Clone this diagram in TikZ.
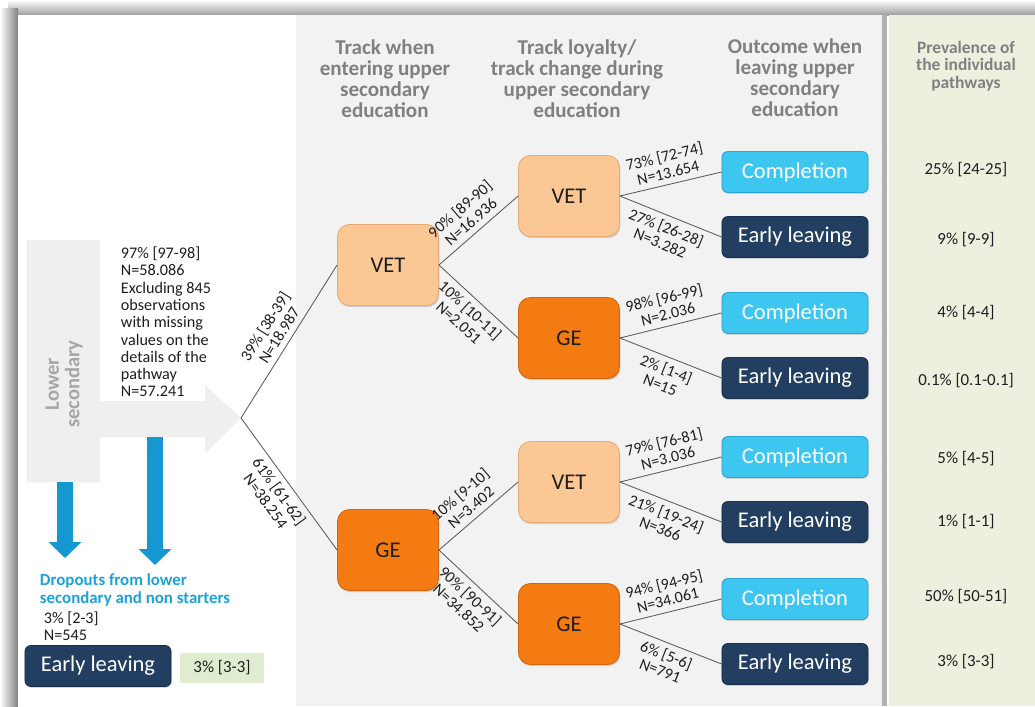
\documentclass[tikz,border=0pt]{standalone}
\usepackage{fontspec}
\setmainfont{Carlito}
\usepackage{xcolor}
\usepackage{tikz}
\usetikzlibrary{arrows.meta,shadows}
\definecolor{panelgray}{HTML}{F2F2F2}
\definecolor{panelgreen}{HTML}{EBF1DE}
\definecolor{boxgreen}{HTML}{DFECCF}
\definecolor{headgray}{HTML}{808080}
\definecolor{lowgray}{HTML}{A6A6A6}
\definecolor{arrowgray}{HTML}{EFEFEF}
\definecolor{vetfill}{HTML}{FBC794}
\definecolor{vetdraw}{HTML}{E6AA74}
\definecolor{gefill}{HTML}{F47A12}
\definecolor{gedraw}{HTML}{D4650A}
\definecolor{compfill}{HTML}{3CC6F0}
\definecolor{compdraw}{HTML}{2AA6D6}
\definecolor{earlyfill}{HTML}{223F62}
\definecolor{earlydraw}{HTML}{172F4D}
\definecolor{dropblue}{HTML}{1597D1}
\definecolor{droptext}{HTML}{1CA3DA}
\definecolor{linegray}{HTML}{595959}
\definecolor{txt}{HTML}{1E1E1E}
\tikzset{
  track/.style={rounded corners=0.3cm, minimum width=2.525cm, minimum height=2.025cm,
    line width=0.6pt, text=txt, font=\fontsize{16}{18}\selectfont,
    drop shadow={shadow xshift=0.6pt, shadow yshift=-1.2pt, opacity=0.3}},
  vet/.style={track, fill=vetfill, draw=vetdraw},
  ge/.style={track, fill=gefill, draw=gedraw},
  outbox/.style={rounded corners=0.15cm, minimum width=3.65cm, minimum height=1.025cm,
    line width=0.6pt, text=white, font=\fontsize{16}{18}\selectfont,
    drop shadow={shadow xshift=0.5pt, shadow yshift=-1pt, opacity=0.3}},
  done/.style={outbox, fill=compfill, draw=compdraw},
  leave/.style={outbox, fill=earlyfill, draw=earlydraw},
  link/.style={draw=linegray, line width=0.6pt},
  elab/.style={text=txt, font=\fontsize{11.4}{11.8}\selectfont, align=center, sloped, inner sep=1pt},
  head/.style={text=headgray, font=\bfseries\fontsize{15}{15}\selectfont, align=center},
  prevhead/.style={text=headgray, font=\bfseries\fontsize{12.4}{12.6}\selectfont, align=center},
  prev/.style={text=txt, font=\fontsize{12}{14}\selectfont},
  note/.style={text=txt, font=\fontsize{11.5}{12.3}\selectfont, align=left},
  drop/.style={draw=dropblue, line width=0.4cm, -{Triangle[width=0.8cm, length=0.4cm]}},
}

\begin{document}
\begin{tikzpicture}[x=0.025cm, y=-0.025cm]
  \useasboundingbox (0,0) rectangle (1035,706);

  % panels and frame shadow
  \fill[white] (0,0) rectangle (1035,706);
  \shade[top color=white, bottom color=black!38] (8,0) rectangle (1035,15);
  \shade[left color=white, right color=black!50] (0,8) rectangle (18,706);
  \fill[white] (18,15) rectangle (296,706);
  \fill[panelgray] (296,15) rectangle (882,706);
  \fill[black!30] (882,15) rectangle (887,706);
  \fill[panelgreen] (889,15) rectangle (1035,706);

  % column headers
  \node[head] (hEnter) at (385,79) {Track when\\entering upper\\secondary\\education};
  \node[head] (hLoyal) at (577,79) {Track loyalty/\\track change during\\upper secondary\\education};
  \node[head] (hOut) at (795,78) {Outcome when\\leaving upper\\secondary\\education};
  \node[prevhead] (hPrev) at (966,66) {Prevalence of\\the individual\\pathways};

  % lower secondary arrow
  \fill[arrowgray] (27,240) -- (100,240) -- (100,401) -- (205,401) -- (205,385) -- (241,418)
    -- (205,453) -- (205,437) -- (100,437) -- (100,482) -- (27,482) -- cycle;
  \node[rotate=90, text=lowgray, font=\bfseries\fontsize{14.6}{14.6}\selectfont, align=center]
    (lower) at (64,384) {Lower\\secondary};
  \node[note, anchor=west] (intake) at (116,322)
    {97\% [97-98]\\N=58.086\\Excluding 845\\observations\\with missing\\values on the\\details of the\\pathway\\N=57.241};
  \coordinate (split) at (241,418);

  % dropouts
  \coordinate (barfoot) at (65,482);
  \coordinate (shaftfoot) at (155,437);
  \coordinate (dropA) at (65,558);
  \coordinate (dropB) at (155,565);
  \draw[drop] (barfoot) -- (dropA);
  \draw[drop] (shaftfoot) -- (dropB);
  \node[text=droptext, font=\bfseries\fontsize{12}{12.6}\selectfont, align=left, anchor=west]
    (dropnote) at (35,590) {Dropouts from lower\\secondary and non starters};
  \node[note, anchor=west] (dropstat) at (39,626) {3\% [2-3]\\N=545};
  \node[leave] (leaveZ) at (98,666) {Early leaving};
  \node[fill=boxgreen, minimum width=2.1cm, minimum height=0.75cm, prev] (prevZ) at (222,668) {3\% [3-3]};

  % track nodes
  \node[vet] (vetA) at (388,265) {VET};
  \node[ge]  (geA)  at (388,550) {GE};
  \node[vet] (vetB) at (569,196) {VET};
  \node[ge]  (geB)  at (569,338) {GE};
  \node[vet] (vetC) at (569,482) {VET};
  \node[ge]  (geC)  at (569,624) {GE};

  % outcomes
  \node[done]  (compA)  at (795,172) {Completion};
  \node[leave] (leaveA) at (795,237) {Early leaving};
  \node[done]  (compB)  at (795,313) {Completion};
  \node[leave] (leaveB) at (795,378) {Early leaving};
  \node[done]  (compC)  at (795,457) {Completion};
  \node[leave] (leaveC) at (795,522) {Early leaving};
  \node[done]  (compD)  at (795,599) {Completion};
  \node[leave] (leaveD) at (795,664) {Early leaving};

  % connectors
  \draw[link] (split) -- node[elab, above=3pt] {39\% [38-39]\\N=18.987} (vetA.west);
  \draw[link] (split) -- node[elab, below=3pt] {61\% [61-62]\\N=38.254} (geA.west);
  \draw[link] (vetA.east) -- node[elab, above=3pt] {90\% [89-90]\\N=16.936} (vetB.west);
  \draw[link] (vetA.east) -- node[elab, below=3pt] {10\% [10-11]\\N=2.051} (geB.west);
  \draw[link] (geA.east) -- node[elab, above=3pt] {10\% [9-10]\\N=3.402} (vetC.west);
  \draw[link] (geA.east) -- node[elab, below=3pt] {90\% [90-91]\\N=34.852} (geC.west);
  \draw[link] (vetB.east) -- node[elab, above=3pt] {73\% [72-74]\\N=13.654} (compA.west);
  \draw[link] (vetB.east) -- node[elab, below=3pt] {27\% [26-28]\\N=3.282} (leaveA.west);
  \draw[link] (geB.east) -- node[elab, above=3pt] {98\% [96-99]\\N=2.036} (compB.west);
  \draw[link] (geB.east) -- node[elab, below=3pt] {2\% [1-4]\\N=15} (leaveB.west);
  \draw[link] (vetC.east) -- node[elab, above=3pt] {79\% [76-81]\\N=3.036} (compC.west);
  \draw[link] (vetC.east) -- node[elab, below=3pt] {21\% [19-24]\\N=366} (leaveC.west);
  \draw[link] (geC.east) -- node[elab, above=3pt] {94\% [94-95]\\N=34.061} (compD.west);
  \draw[link] (geC.east) -- node[elab, below=3pt] {6\% [5-6]\\N=791} (leaveD.west);

  % prevalence column
  \node[prev] (prevA) at (966,170) {25\% [24-25]};
  \node[prev] (prevB) at (966,240) {9\% [9-9]};
  \node[prev] (prevC) at (966,313) {4\% [4-4]};
  \node[prev] (prevD) at (966,381) {0.1\% [0.1-0.1]};
  \node[prev] (prevE) at (966,459) {5\% [4-5]};
  \node[prev] (prevF) at (966,522) {1\% [1-1]};
  \node[prev] (prevG) at (966,597) {50\% [50-51]};
  \node[prev] (prevH) at (966,662) {3\% [3-3]};
\end{tikzpicture}
\end{document}
